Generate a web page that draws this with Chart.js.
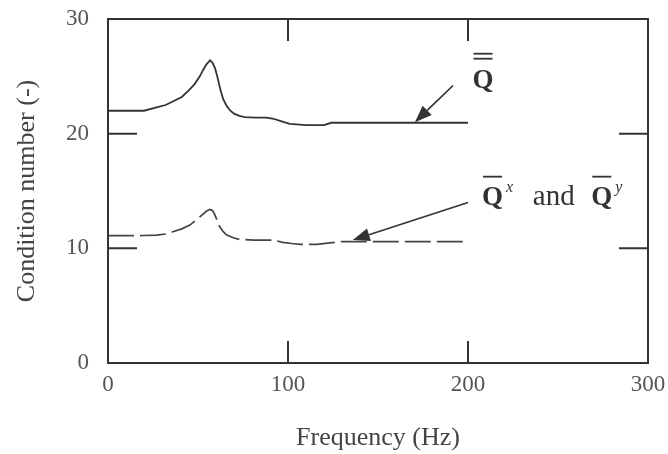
<!DOCTYPE html>
<html>
<head>
<meta charset="utf-8">
<title>Condition number vs frequency</title>
<script src="https://cdn.jsdelivr.net/npm/chart.js@4.4.1/dist/chart.umd.min.js"></script>
<style>
    html, body { margin: 0; padding: 0; background: #fff; }
    #wrap { width: 668px; height: 454px; position: relative; }
</style>
</head>
<body>
<div id="wrap"><canvas id="condChart"></canvas></div>
<script>
// Q-bar-bar curve (solid)
const freqFull = [0, 10, 20, 27, 32, 36, 41, 45, 48, 51, 53, 54.5, 56.7, 58, 59.5, 61, 62.5, 64, 66, 68, 70, 73, 76, 82, 88, 92, 96, 101, 110, 120, 124, 140, 170, 200];
const condFull = [22.0, 22.0, 22.0, 22.3, 22.5, 22.8, 23.2, 23.8, 24.3, 25.0, 25.6, 26.0, 26.4, 26.2, 25.7, 24.8, 23.8, 23.0, 22.4, 22.0, 21.75, 21.55, 21.45, 21.4, 21.4, 21.3, 21.1, 20.85, 20.75, 20.75, 20.95, 20.95, 20.95, 20.95];

// Q-bar x / y curve (dashed)
const freqXY = [0, 10, 20, 27, 32, 36, 41, 45.5, 50, 54.8, 56.5, 58, 59, 60.5, 62, 64, 66, 70, 73, 81, 92, 97, 102, 107, 116, 122, 129, 150, 200];
const condXY = [11.1, 11.1, 11.12, 11.16, 11.25, 11.45, 11.7, 12.03, 12.6, 13.25, 13.4, 13.3, 13.05, 12.5, 11.9, 11.45, 11.16, 10.9, 10.78, 10.72, 10.72, 10.52, 10.42, 10.35, 10.35, 10.45, 10.58, 10.58, 10.58];

const xTicks = [0, 100, 200, 300];
const yTicks = [0, 10, 20, 30];

// arrows: [tailX, tailY, tipX, tipY] in data units
const arrowFull = [191.7, 24.2, 170.5, 21.0];
const arrowXY = [200, 14.0, 136, 10.72];

const toPoints = (xs, ys) => xs.map((x, i) => ({ x: x, y: ys[i] }));

const INK = '#333';
const SERIF = '"Liberation Serif", serif';

// inward ticks on all four sides of the frame
const frameTicks = {
    id: 'frameTicks',
    afterDraw(chart) {
        const { ctx, chartArea: a, scales: { x, y } } = chart;
        ctx.save();
        ctx.strokeStyle = INK;
        ctx.lineWidth = 2;
        ctx.strokeRect(a.left, a.top, a.right - a.left, a.bottom - a.top);
        ctx.beginPath();
        xTicks.forEach(v => {
            const px = x.getPixelForValue(v);
            ctx.moveTo(px, a.bottom); ctx.lineTo(px, a.bottom - 22);
            ctx.moveTo(px, a.top); ctx.lineTo(px, a.top + 22);
        });
        yTicks.forEach(v => {
            const py = y.getPixelForValue(v);
            ctx.moveTo(a.left, py); ctx.lineTo(a.left + 29, py);
            ctx.moveTo(a.right, py); ctx.lineTo(a.right - 29, py);
        });
        ctx.stroke();
        ctx.restore();
    }
};

function drawArrow(ctx, x, y, arr) {
    const x0 = x.getPixelForValue(arr[0]), y0 = y.getPixelForValue(arr[1]);
    const x1 = x.getPixelForValue(arr[2]), y1 = y.getPixelForValue(arr[3]);
    const ang = Math.atan2(y1 - y0, x1 - x0);
    const len = 17, half = 6.5;
    const bx = x1 - len * Math.cos(ang), by = y1 - len * Math.sin(ang);
    ctx.beginPath();
    ctx.moveTo(x0, y0);
    ctx.lineTo(bx, by);
    ctx.stroke();
    ctx.beginPath();
    ctx.moveTo(x1, y1);
    ctx.lineTo(bx + half * Math.sin(ang), by - half * Math.cos(ang));
    ctx.lineTo(bx - half * Math.sin(ang), by + half * Math.cos(ang));
    ctx.closePath();
    ctx.fill();
}

// Q with overline(s) at (px, baseline), returns right edge
function drawQ(ctx, px, py, bars) {
    ctx.font = 'bold 27px ' + SERIF;
    ctx.fillText('Q', px, py);
    const w = ctx.measureText('Q').width;
    if (bars > 1) {
        ctx.fillRect(px + 1, py - 35, w - 2, 1.8);
        ctx.fillRect(px + 1, py - 30, w - 2, 1.8);
    } else {
        ctx.fillRect(px + 1, py - 29, w - 2, 1.8);
    }
    return px + w;
}

const annotations = {
    id: 'annotations',
    afterDraw(chart) {
        const { ctx, scales: { x, y } } = chart;
        ctx.save();
        ctx.strokeStyle = INK;
        ctx.fillStyle = INK;
        ctx.lineWidth = 1.7;
        drawArrow(ctx, x, y, arrowFull);
        drawArrow(ctx, x, y, arrowXY);

        ctx.textBaseline = 'alphabetic';
        ctx.textAlign = 'left';
        drawQ(ctx, x.getPixelForValue(202.5), y.getPixelForValue(24.0), 2);

        const by = y.getPixelForValue(13.8);
        let px = drawQ(ctx, x.getPixelForValue(207.8), by, 1);
        ctx.font = 'italic 16px ' + SERIF;
        ctx.fillText('x', px + 3, by - 13);
        ctx.font = '29px ' + SERIF;
        ctx.fillText('and', x.getPixelForValue(236), by);
        px = drawQ(ctx, x.getPixelForValue(268.5), by, 1);
        ctx.font = 'italic 16px ' + SERIF;
        ctx.fillText('y', px + 3, by - 13);
        ctx.restore();
    }
};

const ctx = document.getElementById('condChart').getContext('2d');

new Chart(ctx, {
    type: 'scatter',
    data: {
        datasets: [
            {
                label: 'Qbarbar',
                data: toPoints(freqFull, condFull),
                showLine: true,
                borderColor: '#333',
                borderWidth: 1.8,
                pointRadius: 0,
                tension: 0
            },
            {
                label: 'Qx and Qy',
                data: toPoints(freqXY, condXY),
                showLine: true,
                borderColor: '#444',
                borderWidth: 1.7,
                borderDash: [26, 6],
                pointRadius: 0,
                tension: 0
            }
        ]
    },
    options: {
        responsive: true,
        maintainAspectRatio: false,
        animation: false,
        layout: { padding: { left: 0, right: 20, top: 19, bottom: 0 } },
        plugins: {
            legend: { display: false },
            tooltip: { enabled: false }
        },
        scales: {
            x: {
                type: 'linear',
                min: 0,
                max: 300,
                afterBuildTicks: s => { s.ticks = xTicks.map(v => ({ value: v })); },
                afterFit: s => {
                    s.height = 91;
                    s.paddingLeft = 0;
                    s.paddingRight = 0;
                },
                grid: { display: false, drawTicks: false },
                border: { display: false },
                ticks: {
                    color: '#555',
                    padding: 8,
                    font: { family: SERIF, size: 23 }
                },
                title: {
                    display: true,
                    text: 'Frequency (Hz)',
                    color: '#444',
                    padding: { top: 0, bottom: 0 },
                    font: { family: SERIF, size: 26 }
                }
            },
            y: {
                min: 0,
                max: 30,
                afterBuildTicks: s => { s.ticks = yTicks.map(v => ({ value: v })); },
                afterFit: s => {
                    s.width = 108;
                    s.paddingTop = 0;
                    s.paddingBottom = 0;
                },
                grid: { display: false, drawTicks: false },
                border: { display: false },
                ticks: {
                    color: '#555',
                    padding: 19,
                    font: { family: SERIF, size: 23 }
                },
                title: {
                    display: true,
                    text: 'Condition number (-)',
                    color: '#444',
                    padding: { top: 12, bottom: 0 },
                    font: { family: SERIF, size: 26 }
                }
            }
        }
    },
    plugins: [frameTicks, annotations]
});
</script>
</body>
</html>
